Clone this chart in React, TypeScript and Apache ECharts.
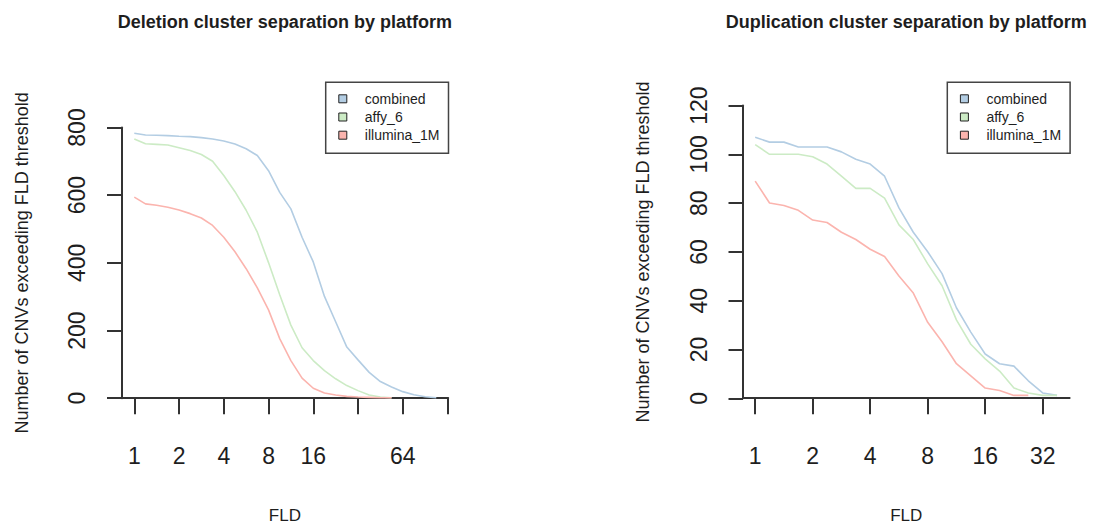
import React, { useEffect, useRef } from "react";
import * as echarts from "echarts";

// FLD thresholds (quarter-steps on a log2 scale)
const FLD_STEPS = [
  1, 1.189, 1.414, 1.682, 2, 2.378, 2.828, 3.364, 4, 4.757, 5.657, 6.727, 8,
  9.514, 11.31, 13.45, 16, 19.03, 22.63, 26.91, 32, 38.05, 45.25, 53.82, 64,
  76.11, 90.51, 107.6,
];

const SERIES_NAMES = ["combined", "affy_6", "illumina_1M"];
const SERIES_COLORS = ["#B3CDE3", "#CCEBC5", "#FBB4AE"];

// Deletion panel
const delCombined = [
  783, 778, 777, 776, 774, 773, 770, 766, 760, 751, 737, 717, 672, 608, 559,
  475, 402, 300, 225, 150, 112, 75, 48, 32, 18, 9, 3, 0,
];
const delAffy = [
  766, 752, 750, 748, 740, 732, 720, 700, 658, 610, 555, 490, 400, 305, 215,
  148, 110, 80, 56, 36, 21, 8, 2, 0,
];
const delIllumina = [
  594, 574, 570, 564, 556, 545, 532, 510, 475, 432, 382, 325, 260, 175, 110,
  58, 28, 14, 8, 4, 2, 1, 0, 0,
];

// Duplication panel
const dupCombined = [
  107, 105, 105, 103, 103, 103, 101, 98, 96, 91, 78, 68, 60, 51, 37, 27, 18,
  14, 13, 7, 2, 1,
];
const dupAffy = [
  104, 100, 100, 100, 99, 96, 91, 86, 86, 82, 71, 65, 55, 46, 32, 22, 16, 11,
  4, 2, 1, 1,
];
const dupIllumina = [
  89, 80, 79, 77, 73, 72, 68, 65, 61, 58, 50, 43, 31, 23, 14, 9, 4, 3, 1, 1,
];

const delTickLabels = [1, 2, 4, 8, 16, 64];
const dupTickLabels = [1, 2, 4, 8, 16, 32];

const W = 1096;
const H = 529;
const FONT = "Liberation Sans";
const INK = "#1e1e1e";
const AXIS = "#333";

const panels = [
  {
    title: "Deletion cluster separation by platform",
    plotLeft: 121.5,
    plotRight: 448.2,
    tickLeft: 134.3,
    tickRight: 447.5,
    xMaxTick: 128,
    xLogMin: -0.286,
    xLogMax: 7.016,
    yTop: 127.5,
    yZero: 398.2,
    axisY: 410.5,
    yMax: 800,
    yInterval: 200,
    legendLeft: 325.7,
    tickLabels: delTickLabels,
    values: [delCombined, delAffy, delIllumina],
  },
  {
    title: "Duplication cluster separation by platform",
    plotLeft: 743,
    plotRight: 1069.6,
    tickLeft: 755.2,
    tickRight: 1042.7,
    xMaxTick: 32,
    xLogMin: -0.212,
    xLogMax: 5.468,
    yTop: 105.6,
    yZero: 398.3,
    axisY: 410.5,
    yMax: 120,
    yInterval: 20,
    legendLeft: 947.3,
    tickLabels: dupTickLabels,
    values: [dupCombined, dupAffy, dupIllumina],
  },
];

function buildOption() {
  const grid: any[] = [];
  const xAxis: any[] = [];
  const yAxis: any[] = [];
  const series: any[] = [];
  const legend: any[] = [];
  const graphic: any[] = [];

  panels.forEach((p, pi) => {
    const a = pi * 2;
    const b = pi * 2 + 1;
    const yMinExt = -((p.axisY - p.yZero) * p.yMax) / (p.yZero - p.yTop);

    // data region grid
    grid.push({
      left: p.plotLeft,
      right: W - p.plotRight,
      top: p.yTop,
      bottom: H - p.axisY,
      containLabel: false,
    });
    // tick grid
    grid.push({
      left: p.tickLeft,
      right: W - p.tickRight,
      top: p.yTop,
      bottom: H - p.yZero,
      containLabel: false,
    });

    xAxis.push({
      gridIndex: a,
      type: "log",
      logBase: 2,
      min: Math.pow(2, p.xLogMin),
      max: Math.pow(2, p.xLogMax),
      axisLine: { show: true, lineStyle: { color: AXIS, width: 2 } },
      axisTick: { show: false },
      axisLabel: { show: false },
      splitLine: { show: false },
      name: "FLD",
      nameLocation: "middle",
      nameGap: 97,
      nameTextStyle: { fontSize: 17, color: INK, fontFamily: FONT },
    });
    xAxis.push({
      gridIndex: b,
      type: "log",
      logBase: 2,
      min: 1,
      max: p.xMaxTick,
      splitNumber: 10,
      offset: p.axisY - p.yZero,
      axisLine: { show: false },
      axisTick: { show: true, length: 16, lineStyle: { color: AXIS, width: 2 } },
      axisLabel: {
        show: true,
        fontSize: 23,
        color: INK,
        fontFamily: FONT,
        margin: 34,
        formatter: (v: number) => {
          const r = Math.round(v);
          return p.tickLabels.indexOf(r) >= 0 ? String(r) : "";
        },
      },
      splitLine: { show: false },
    });

    yAxis.push({
      gridIndex: a,
      type: "value",
      min: yMinExt,
      max: p.yMax,
      show: false,
    });
    yAxis.push({
      gridIndex: b,
      type: "value",
      min: 0,
      max: p.yMax,
      interval: p.yInterval,
      offset: p.tickLeft - p.plotLeft,
      axisLine: { show: true, lineStyle: { color: AXIS, width: 2 } },
      axisTick: { show: true, length: 14.5, lineStyle: { color: AXIS, width: 2 } },
      axisLabel: {
        rotate: 90,
        fontSize: 23,
        color: INK,
        fontFamily: FONT,
        margin: 33,
      },
      splitLine: { show: false },
      name: "Number of CNVs exceeding FLD threshold",
      nameLocation: "middle",
      nameRotate: 90,
      nameGap: 91,
      nameTextStyle: { fontSize: 18, color: INK, fontFamily: FONT },
    });

    p.values.forEach((vals, si) => {
      series.push({
        type: "line",
        name: SERIES_NAMES[si],
        xAxisIndex: a,
        yAxisIndex: a,
        data: vals.map((v, i) => [FLD_STEPS[i], v]),
        showSymbol: false,
        symbol: "none",
        silent: true,
        color: SERIES_COLORS[si],
        lineStyle: { color: SERIES_COLORS[si], width: 1.6 },
      });
    });

    legend.push({
      left: p.legendLeft,
      top: 82.3,
      orient: "vertical",
      icon: "rect",
      itemWidth: 8,
      itemHeight: 8,
      itemGap: 4.2,
      padding: [9.5, 9, 11, 12.6],
      borderColor: "#444",
      borderWidth: 1.5,
      borderRadius: 0,
      selectedMode: false,
      textStyle: {
        fontSize: 14,
        color: INK,
        fontFamily: FONT,
        padding: [0, 0, 0, 13],
      },
      data: SERIES_NAMES.map((n, i) => ({
        name: n,
        itemStyle: {
          color: SERIES_COLORS[i],
          borderColor: "#222",
          borderWidth: 1,
        },
      })),
    });

    graphic.push({
      type: "text",
      x: (p.plotLeft + p.plotRight) / 2,
      y: 22,
      silent: true,
      style: {
        text: p.title,
        align: "center",
        verticalAlign: "middle",
        fontSize: 18,
        fontWeight: "bold",
        fontFamily: FONT,
        fill: INK,
      },
    });
  });

  return {
    animation: false,
    backgroundColor: "#ffffff",
    grid,
    xAxis,
    yAxis,
    series,
    legend,
    graphic,
  };
}

export default function App() {
  const ref = useRef<HTMLDivElement>(null);
  useEffect(() => {
    if (!ref.current) return;
    const chart = echarts.init(ref.current, undefined, { renderer: "svg" });
    chart.setOption(buildOption() as any);
    return () => {
      chart.dispose();
    };
  }, []);
  return (
    <div
      ref={ref}
      style={{ position: "absolute", left: 0, top: 0, width: W, height: H }}
    />
  );
}
